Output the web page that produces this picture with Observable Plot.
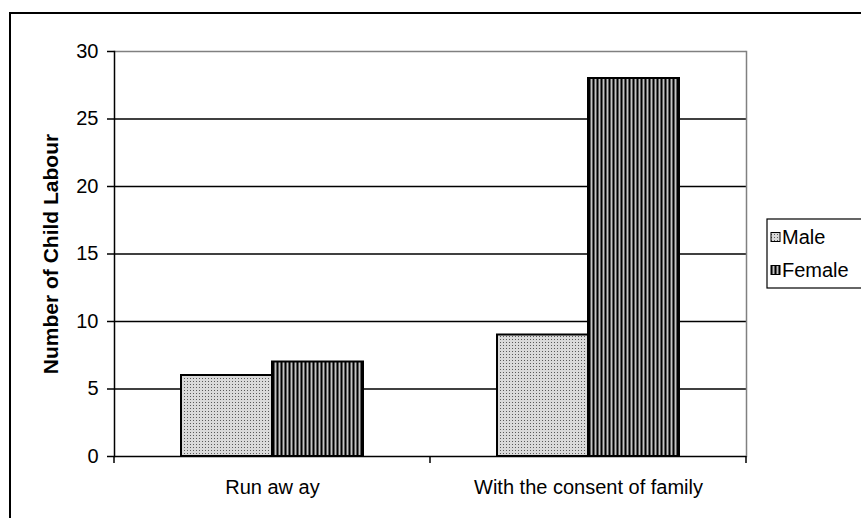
<!DOCTYPE html>
<html>
<head>
<meta charset="utf-8">
<script src="https://cdn.jsdelivr.net/npm/d3@7"></script>
<script src="https://cdn.jsdelivr.net/npm/@observablehq/plot@0.6"></script>
<style>
  body { margin: 0; background: #fff; }
  #chart { position: relative; width: 861px; height: 518px; overflow: hidden; }
  #chart svg { display: block; }
</style>
</head>
<body>
<div id="chart"></div>
<script>
// Categories, series and tick values
const categories = ["Run aw ay", "With the consent of family"];
const sexes = ["Male", "Female"];
const maleValues = [6, 9];
const femaleValues = [7, 28];
const yTicks = [0, 5, 10, 15, 20, 25, 30];
const yTitle = "Number of Child Labour";

const rows = categories.flatMap((c, i) => [
  {category: c, sex: sexes[0], value: maleValues[i]},
  {category: c, sex: sexes[1], value: femaleValues[i]}
]);

const font = "'Liberation Sans', Arial, sans-serif";

const plot = Plot.plot({
  width: 861,
  height: 518,
  marginLeft: 113,
  marginRight: 115,
  marginTop: 51,
  marginBottom: 62,
  style: {fontFamily: font, background: "transparent", overflow: "visible"},
  fx: {domain: categories, padding: 0, label: null},
  x: {domain: sexes, paddingInner: 0, paddingOuter: 0.72, axis: null},
  y: {domain: [0, 30], label: null},
  color: {type: "ordinal", domain: sexes, range: ["url(#pat-male)", "url(#pat-female)"]},
  marks: [
    Plot.gridY(yTicks.filter(t => t > 0 && t < 30), {stroke: "#000", strokeOpacity: 1, strokeWidth: 1.5}),
    Plot.ruleY([30], {stroke: "#808080", strokeWidth: 1.5}),
    Plot.frame({anchor: "right", stroke: "#808080", strokeWidth: 1.5, fx: [categories[1]]}),
    Plot.barY(rows, {fx: "category", x: "sex", y: "value", fill: "sex", stroke: "#000", strokeWidth: 2}),
    Plot.ruleY([0], {stroke: "#000", strokeWidth: 1.5}),
    Plot.frame({anchor: "left", stroke: "#000", strokeWidth: 1.5, fx: [categories[0]]}),
    Plot.axisY({ticks: yTicks, tickSize: 7, tickPadding: 9, fontSize: 20, label: null, stroke: "#000", strokeWidth: 1.5, color: "#000"}),
    Plot.axisFx({anchor: "bottom", tickSize: 0, tickPadding: 23, fontSize: 20, label: null, color: "#000"}),
    Plot.text([yTitle], {
      fx: [categories[0]],
      frameAnchor: "left",
      textAnchor: "middle",
      rotate: -90,
      dx: -63,
      text: d => d,
      fontWeight: "bold",
      fontSize: 21,
      lineAnchor: "middle",
      fill: "#000"
    })
  ]
});

const svg = d3.select(plot);

// Fill patterns for the two series
const defs = svg.insert("defs", ":first-child");
const pm = defs.append("pattern").attr("id", "pat-male")
  .attr("patternUnits", "userSpaceOnUse").attr("width", 3).attr("height", 3);
pm.append("rect").attr("width", 3).attr("height", 3).attr("fill", "#dadada");
pm.append("rect").attr("width", 1).attr("height", 1).attr("fill", "#5a5a5a");

const pf = defs.append("pattern").attr("id", "pat-female")
  .attr("patternUnits", "userSpaceOnUse").attr("width", 4).attr("height", 4);
pf.append("rect").attr("width", 4).attr("height", 4).attr("fill", "#c4c4c4");
pf.append("rect").attr("x", 0).attr("width", 1).attr("height", 4).attr("fill", "#000");
pf.append("rect").attr("x", 1).attr("width", 1).attr("height", 4).attr("fill", "#5e5e5e");
pf.append("rect").attr("x", 3).attr("width", 1).attr("height", 4).attr("fill", "#5e5e5e");

// Category boundary ticks under the baseline
const fxScale = plot.scale("fx");
const yScale = plot.scale("y");
const y0 = yScale.apply(0);
const edges = categories.map(c => fxScale.apply(c));
edges.push(fxScale.apply(categories[categories.length - 1]) + fxScale.bandwidth);
svg.append("g").selectAll("line").data(edges).join("line")
  .attr("x1", d => d).attr("x2", d => d)
  .attr("y1", y0).attr("y2", y0 + 7)
  .attr("stroke", "#000").attr("stroke-width", 1.5);

// Outer chart border
svg.append("rect")
  .attr("x", 10).attr("y", 13).attr("width", 900).attr("height", 600)
  .attr("fill", "none").attr("stroke", "#000").attr("stroke-width", 2);

// Legend
const legend = svg.append("g");
legend.append("rect")
  .attr("x", 767).attr("y", 219).attr("width", 140).attr("height", 69)
  .attr("fill", "#fff").attr("stroke", "#000").attr("stroke-width", 1.2);
const items = legend.selectAll("g.item").data(sexes).join("g")
  .attr("transform", (d, i) => `translate(771, ${237 + i * 33})`);
items.append("rect")
  .attr("x", 0).attr("y", -4.5).attr("width", 9).attr("height", 9)
  .attr("fill", d => d === sexes[0] ? "url(#pat-male)" : "url(#pat-female)")
  .attr("stroke", "#000").attr("stroke-width", 1);
items.append("text")
  .attr("x", 11).attr("dy", "0.36em")
  .attr("text-anchor", "start")
  .attr("font-family", font).attr("font-size", 20).attr("fill", "#000")
  .text(d => d);

document.getElementById("chart").appendChild(plot);
</script>
</body>
</html>
